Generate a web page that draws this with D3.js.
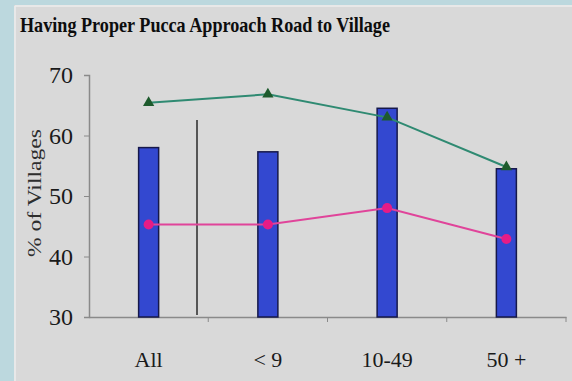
<!DOCTYPE html>
<html>
<head>
<meta charset="utf-8">
<script src="https://cdn.jsdelivr.net/npm/d3@7"></script>
<style>
  html, body { margin: 0; padding: 0; background: #bcd8de; }
  svg { display: block; }
</style>
</head>
<body>
<svg id="chart" width="572" height="381"></svg>
<script>
// Village size groups and the three measures plotted per group
const categories = ["All", "< 9", "10-49", "50 +"];
const barValues = [58, 57.3, 64.5, 54.5];
const greenValues = [65.4, 66.8, 63, 54.8];
const pinkValues = [45.3, 45.3, 48, 42.9];
const yTicks = [30, 40, 50, 60, 70];

const svg = d3.select("#chart");
const W = 572, H = 381;
const serif = "Liberation Serif, 'Times New Roman', serif";

// panel
svg.append("rect").attr("x", 14).attr("y", 5).attr("width", W - 14).attr("height", H - 5)
  .attr("fill", "#d9d9d9");
svg.append("line").attr("x1", 15).attr("x2", W).attr("y1", 6).attr("y2", 6)
  .attr("stroke", "#ececec").attr("stroke-width", 1.5);
svg.append("line").attr("x1", 15).attr("x2", 15).attr("y1", 6).attr("y2", H)
  .attr("stroke", "#ececec").attr("stroke-width", 1.5);

const x0 = 89, x1 = 566, yTop = 75, yBot = 317;
const x = d3.scaleBand().domain(categories).range([x0, x1]).paddingInner(0).paddingOuter(0);
const y = d3.scaleLinear().domain([30, 70]).range([yBot, yTop]);

// title
svg.append("text").attr("x", 20).attr("y", 32)
  .attr("font-family", serif).attr("font-weight", "bold")
  .attr("font-size", 21).attr("fill", "#0d0d0d")
  .attr("textLength", 370).attr("lengthAdjust", "spacingAndGlyphs")
  .text("Having Proper Pucca Approach Road to Village");

// y axis
const yAxis = d3.axisLeft(y).tickValues(yTicks).tickSize(5).tickPadding(11);
const gy = svg.append("g").attr("transform", `translate(${x0},0)`).call(yAxis);
gy.select(".domain").attr("stroke", "#8a8a8a").attr("stroke-width", 1.5);
gy.selectAll(".tick line").attr("stroke", "#8a8a8a");
gy.selectAll(".tick text").attr("font-family", serif)
  .attr("font-size", 24).attr("fill", "#1a1a1a");

// x axis
const xAxis = d3.axisBottom(x).tickSize(0).tickPadding(34);
const gx = svg.append("g").attr("transform", `translate(0,${yBot})`).call(xAxis);
gx.select(".domain").attr("stroke", "#8a8a8a").attr("stroke-width", 1.5);
gx.selectAll(".tick text").attr("font-family", serif)
  .attr("font-size", 22).attr("fill", "#1a1a1a");
// category boundary ticks
gx.selectAll(".sep").data(categories.slice(1).concat(["end"])).enter().append("line")
  .attr("x1", (d, i) => i < 3 ? x(d) : x1).attr("x2", (d, i) => i < 3 ? x(d) : x1)
  .attr("y1", 0).attr("y2", 5).attr("stroke", "#8a8a8a");

// y axis title
svg.append("text")
  .attr("transform", "translate(41,193) rotate(-90)")
  .attr("text-anchor", "middle")
  .attr("font-family", serif).attr("font-size", 19)
  .attr("fill", "#2e2e2e")
  .attr("textLength", 128).attr("lengthAdjust", "spacingAndGlyphs")
  .text("% of Villages");

// bars
const bw = 20;
svg.selectAll(".bar").data(barValues).enter().append("rect")
  .attr("x", (d, i) => x(categories[i]) + x.bandwidth() / 2 - bw / 2)
  .attr("y", d => y(d)).attr("width", bw).attr("height", d => yBot - y(d))
  .attr("fill", "#3348d0").attr("stroke", "#16184a").attr("stroke-width", 1.5);

// separator between the overall figure and the size groups
svg.append("line").attr("x1", 197).attr("x2", 197).attr("y1", 120).attr("y2", 315)
  .attr("stroke", "#555").attr("stroke-width", 2);

const cx = i => x(categories[i]) + x.bandwidth() / 2;
const line = d3.line().x((d, i) => cx(i)).y(d => y(d));

// green series
svg.append("path").datum(greenValues).attr("d", line)
  .attr("fill", "none").attr("stroke", "#2f8a72").attr("stroke-width", 2);
svg.selectAll(".tri").data(greenValues).enter().append("path")
  .attr("d", d3.symbol().type(d3.symbolTriangle).size(55))
  .attr("transform", (d, i) => `translate(${cx(i)},${y(d)})`)
  .attr("fill", "#1d5a2c");

// pink series
svg.append("path").datum(pinkValues).attr("d", line)
  .attr("fill", "none").attr("stroke", "#e0449a").attr("stroke-width", 2);
svg.selectAll(".dot").data(pinkValues).enter().append("circle")
  .attr("cx", (d, i) => cx(i)).attr("cy", d => y(d)).attr("r", 5)
  .attr("fill", "#e61c86");
</script>
</body>
</html>
